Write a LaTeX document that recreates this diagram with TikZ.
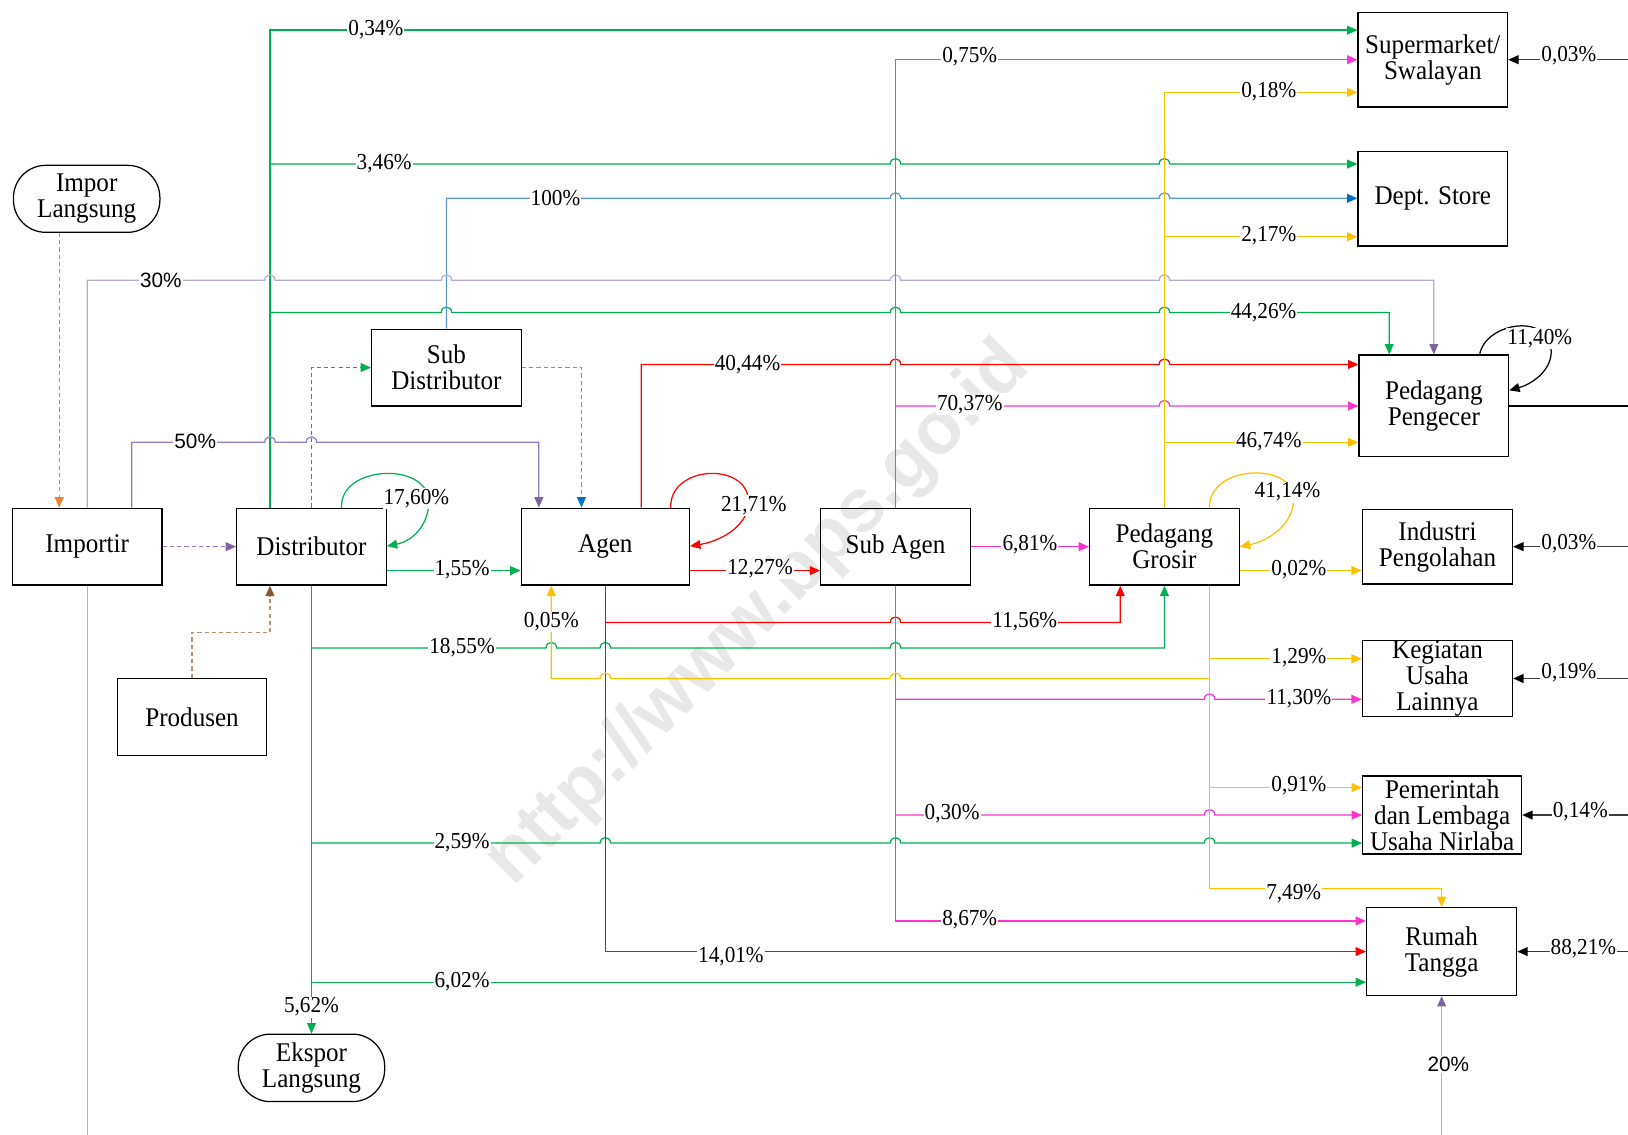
\documentclass[tikz,border=0pt]{standalone}
\usepackage{fontspec}
\setmainfont{Liberation Serif}[FakeStretch=0.93]
\newfontfamily\sansfam{Liberation Sans}
\usetikzlibrary{arrows.meta}

\definecolor{cG}{RGB}{0,176,80}
\definecolor{cP}{RGB}{255,51,204}
\definecolor{cY}{RGB}{255,192,0}
\definecolor{cR}{RGB}{255,0,0}
\definecolor{cB}{RGB}{0,112,192}
\definecolor{cBl}{RGB}{91,155,213}
\definecolor{cV}{RGB}{128,100,162}
\definecolor{cVm}{RGB}{150,125,190}
\definecolor{cVl}{RGB}{185,170,210}
\definecolor{cO}{RGB}{237,125,49}
\definecolor{cBr}{RGB}{140,90,50}
\definecolor{cBrl}{RGB}{190,145,110}
\definecolor{cK}{RGB}{60,60,60}

% horizontal run that hops over a vertical line at x=#1 on the level y=#2
\newcommand\hp[2]{-- (#1-5,#2) .. controls (#1-5,#2-7) and (#1+5,#2-7) .. (#1+5,#2)}

\tikzset{
  box/.style={draw=black, line width=1.2pt, inner sep=0pt, align=center,
    font=\fontsize{26}{25}\selectfont},
  pill/.style={box, rounded corners=31pt},
  lbl/.style={fill=white, inner sep=1pt, font=\fontsize{22}{22}\selectfont},
  slbl/.style={fill=white, inner sep=1pt, font=\sansfam\fontsize{20}{20}\selectfont},
  wire/.style={line width=1.2pt},
  tip/.style={-{Triangle[length=10pt,width=8.5pt]}},
  rtip/.style={{Triangle[length=10pt,width=8.5pt]}-},
  tipB/.style={-{Triangle[length=10pt,width=8.5pt,color=cB]}},
  tipV/.style={-{Triangle[length=10pt,width=8.5pt,color=cV]}},
  tipO/.style={-{Triangle[length=10pt,width=8.5pt,color=cO]}},
  tipBr/.style={-{Triangle[length=10pt,width=8.5pt,color=cBr]}},
  tipK/.style={-{Triangle[length=10pt,width=8.5pt,color=black]}},
  dsh/.style={dash pattern=on 4pt off 3pt},
}

\begin{document}
\begin{tikzpicture}[x=1pt,y=-1pt]
\useasboundingbox (0,0) rectangle (1568,1093);

% watermark in the background
\node[rotate=45, text=black!9, font=\sansfam\bfseries\fontsize{72}{72}\selectfont]
  (wm) at (731,592) {http://www.bps.go.id};

% ---------------- boxes ----------------
\node[box, minimum width=144pt, minimum height=91pt] (sm) at (1380,57.5) {Supermarket/\\Swalayan};
\node[box, minimum width=144pt, minimum height=91pt] (ds) at (1380,191.5) {Dept. Store};
\node[box, minimum width=144pt, minimum height=98pt] (pp) at (1381,391) {Pedagang\\Pengecer};
\node[box, minimum width=144.5pt, minimum height=72pt] (ip) at (1384.5,526.5) {Industri\\Pengolahan};
\node[box, minimum width=144.5pt, minimum height=72pt] (ku) at (1384.5,653.5) {Kegiatan\\Usaha\\Lainnya};
\node[box, minimum width=153pt, minimum height=75pt] (pl) at (1389,785) {Pemerintah\\dan Lembaga\\Usaha Nirlaba};
\node[box, minimum width=144.5pt, minimum height=84.5pt] (rt) at (1388.5,916.5) {Rumah\\Tangga};
\node[pill, minimum width=141pt, minimum height=64.5pt] (il) at (83.5,191.5) {Impor\\Langsung};
\node[box, minimum width=144pt, minimum height=74pt] (im) at (84,526.5) {Importir};
\node[box, minimum width=144pt, minimum height=74pt] (di) at (300,526.5) {Distributor};
\node[box, minimum width=144pt, minimum height=74pt] (sd) at (430,354) {Sub\\Distributor};
\node[box, minimum width=162pt, minimum height=74pt] (ag) at (583,526.5) {Agen};
\node[box, minimum width=144pt, minimum height=74pt] (sa) at (862.5,526.5) {Sub Agen};
\node[box, minimum width=144pt, minimum height=74pt] (pg) at (1121.5,526.5) {Pedagang\\Grosir};
\node[box, minimum width=144pt, minimum height=74pt] (pr) at (185,690.5) {Produsen};
\node[pill, minimum width=141pt, minimum height=65pt] (ek) at (300,1028.5) {Ekspor\\Langsung};

% ---------------- Distributor (green) ----------------
\draw[wire,cG,tip] (di.north -| 260,0) -- (260,29) -- (sm.west |- 0,29);
\draw[wire,cG,tip] (260,158) \hp{862.5}{158} \hp{1121.5}{158} -- (ds.west |- 0,158);
\draw[wire,cG,tip] (260,301) \hp{430}{301} \hp{862.5}{301} \hp{1121.5}{301} -- (1338,301) -- (pp.north -| 1338,0);
\draw[wire,cG,tip] (di.east |- 0,549.5) -- (ag.west |- 0,549.5);
\draw[wire,cG,tip] (di.south) -- (ek.north);
\draw[wire,cG,tip] (300,624) \hp{531}{624} \hp{583}{624} \hp{862.5}{624} -- (1121.5,624) -- (pg.south);
\draw[wire,cG,tip] (300,812) \hp{583}{812} \hp{862.5}{812} \hp{1165}{812} -- (pl.west |- 0,812);
\draw[wire,cG,tip] (300,946) -- (rt.west |- 0,946);
\draw[wire,cG,tip] (329,489.5) .. controls (326,448) and (412,444) .. (413,483)
  .. controls (413,505) and (398,521) .. (di.east |- 0,526);
\draw[wire,cG,tip,dsh] (di.north) -- (300,354) -- (sd.west |- 0,354);

% ---------------- Sub Distributor (blue) ----------------
\draw[wire,cBl,tipB] (sd.north) -- (430,191) \hp{862.5}{191} \hp{1121.5}{191} -- (ds.west |- 0,191);
\draw[wire,cBl,tipB,dsh] (sd.east |- 0,354) -- (560,354) -- (ag.north -| 560,0);

% ---------------- Importir (purple) ----------------
\draw[wire,cVl,tipV] (im.north -| 84,0) -- (84,270) \hp{260}{270} \hp{430}{270} \hp{862.5}{270} \hp{1121.5}{270}
  -- (1381,270) -- (pp.north -| 1381,0);
\draw[wire,cVm,tipV] (im.north -| 127,0) -- (127,426) \hp{260}{426} \hp{300}{426} -- (519,426) -- (ag.north -| 519,0);
\draw[wire,cVm,tipV,dsh] (im.east) -- (di.west);
\draw[wire,cVl] (im.south) -- (84,1093);
\draw[wire,cVl,tipV] (1388.5,1093) -- (rt.south);

% ---------------- sources (dashed) ----------------
\draw[wire,cO,tipO,dsh] (il.south -| 57,0) -- (im.north -| 57,0);
\draw[wire,cBrl,tipBr,dsh] (pr.north) -- (185,609) -- (260,609) -- (di.south -| 260,0);

% ---------------- Agen (red) ----------------
\draw[wire,cR,tip] (ag.north -| 617.5,0) -- (617.5,351) \hp{862.5}{351} \hp{1121.5}{351} -- (pp.west |- 0,351);
\draw[wire,cR,tip] (646,489.5) .. controls (644,448) and (720,444) .. (721,483)
  .. controls (721,506) and (695,521) .. (ag.east |- 0,526);
\draw[wire,cR,tip] (ag.east |- 0,549.5) -- (sa.west |- 0,549.5);
\draw[wire,cR,tip] (ag.south) -- (583,916.5) -- (rt.west |- 0,916.5);
\draw[wire,cR,tip] (583,599.5) \hp{862.5}{599.5} -- (1079,599.5) -- (pg.south -| 1079,0);

% ---------------- Sub Agen (pink) ----------------
\draw[wire,cP,tip] (sa.north) -- (862.5,57.5) -- (sm.west);
\draw[wire,cP,tip] (862.5,391) \hp{1121.5}{391} -- (pp.west);
\draw[wire,cP,tip] (sa.east) -- (pg.west);
\draw[wire,cP,tip] (sa.south) -- (862.5,887) -- (rt.west |- 0,887);
\draw[wire,cP,tip] (862.5,673.5) \hp{1165}{673.5} -- (ku.west |- 0,673.5);
\draw[wire,cP,tip] (862.5,785) \hp{1165}{785} -- (pl.west);

% ---------------- Pedagang Grosir (yellow) ----------------
\draw[wire,cY,tip] (pg.north) -- (1121.5,89) -- (sm.west |- 0,89);
\draw[wire,cY,tip] (1121.5,228) -- (ds.west |- 0,228);
\draw[wire,cY,tip] (1121.5,426) -- (pp.west |- 0,426);
\draw[wire,cY,tip] (1165,489.5) .. controls (1163,448) and (1245,444) .. (1246,480)
  .. controls (1246,505) and (1222,521) .. (pg.east |- 0,526.5);
\draw[wire,cY,tip] (pg.east |- 0,549.5) -- (ip.west |- 0,549.5);
\draw[wire,cY,tip] (pg.south -| 1165,0) -- (1165,856) -- (1388.5,856) -- (rt.north);
\draw[wire,cY,tip] (1165,634.5) -- (ku.west |- 0,634.5);
\draw[wire,cY,tip] (1165,758.5) -- (pl.west |- 0,758.5);
\draw[wire,cY,rtip] (ag.south -| 531,0) -- (531,653.5) \hp{583}{653.5} \hp{862.5}{653.5} -- (1165,653.5);

% ---------------- right-hand flows (black) ----------------
\draw[wire,cK,tipK] (1568,57.5) -- (sm.east);
\draw[wire,black] (pp.east) -- (1568,391);
\draw[wire,black,tipK] (1425,342) .. controls (1430,310) and (1495,300) .. (1494,340)
  .. controls (1493,358) and (1475,370) .. (pp.east |- 0,376);
\draw[wire,cK,tipK] (1568,526.5) -- (ip.east);
\draw[wire,cK,tipK] (1568,653.5) -- (ku.east);
\draw[wire,cK,tipK] (1568,785) -- (pl.east);
\draw[wire,cK,tipK] (1568,916.5) -- (rt.east);

% ---------------- shares ----------------
\node[lbl] (p01) at (362,29) {0,34\%};
\node[lbl] (p02) at (370,158) {3,46\%};
\node[lbl] (p03) at (535,191) {100\%};
\node[slbl] (p04) at (155,270) {30\%};
\node[lbl] (p05) at (1217,301) {44,26\%};
\node[lbl] (p06) at (720,351) {40,44\%};
\node[lbl] (p07) at (934,55) {0,75\%};
\node[lbl] (p08) at (1222,88) {0,18\%};
\node[lbl] (p09) at (1222,227) {2,17\%};
\node[lbl] (p10) at (934,390) {70,37\%};
\node[lbl] (p11) at (1222,425) {46,74\%};
\node[slbl] (p12) at (188,425) {50\%};
\node[lbl] (p13) at (401,480) {17,60\%};
\node[lbl] (p14) at (726,487) {21,71\%};
\node[lbl] (p15) at (1240,474) {41,14\%};
\node[lbl] (p16) at (1483,326) {11,40\%};
\node[lbl] (p17) at (445,549) {1,55\%};
\node[lbl] (p18) at (732,548) {12,27\%};
\node[lbl] (p19) at (992,525) {6,81\%};
\node[lbl] (p20) at (1251,549) {0,02\%};
\node[lbl] (p21) at (531,599) {0,05\%};
\node[lbl] (p22) at (987,599) {11,56\%};
\node[lbl] (p23) at (445,624) {18,55\%};
\node[lbl] (p24) at (1251,633) {1,29\%};
\node[lbl] (p25) at (1251,673) {11,30\%};
\node[lbl] (p26) at (1251,757) {0,91\%};
\node[lbl] (p27) at (917,784) {0,30\%};
\node[lbl] (p28) at (445,812) {2,59\%};
\node[lbl] (p29) at (1246,861) {7,49\%};
\node[lbl] (p30) at (934,886) {8,67\%};
\node[lbl] (p31) at (704,921) {14,01\%};
\node[lbl] (p32) at (445,945) {6,02\%};
\node[lbl] (p33) at (300,970) {5,62\%};
\node[slbl] (p34) at (1395,1025) {20\%};
\node[lbl] (p35) at (1511,54) {0,03\%};
\node[lbl] (p36) at (1511,524) {0,03\%};
\node[lbl] (p37) at (1511,648) {0,19\%};
\node[lbl] (p38) at (1522,782) {0,14\%};
\node[lbl] (p39) at (1525,914) {88,21\%};
\end{tikzpicture}
\end{document}
